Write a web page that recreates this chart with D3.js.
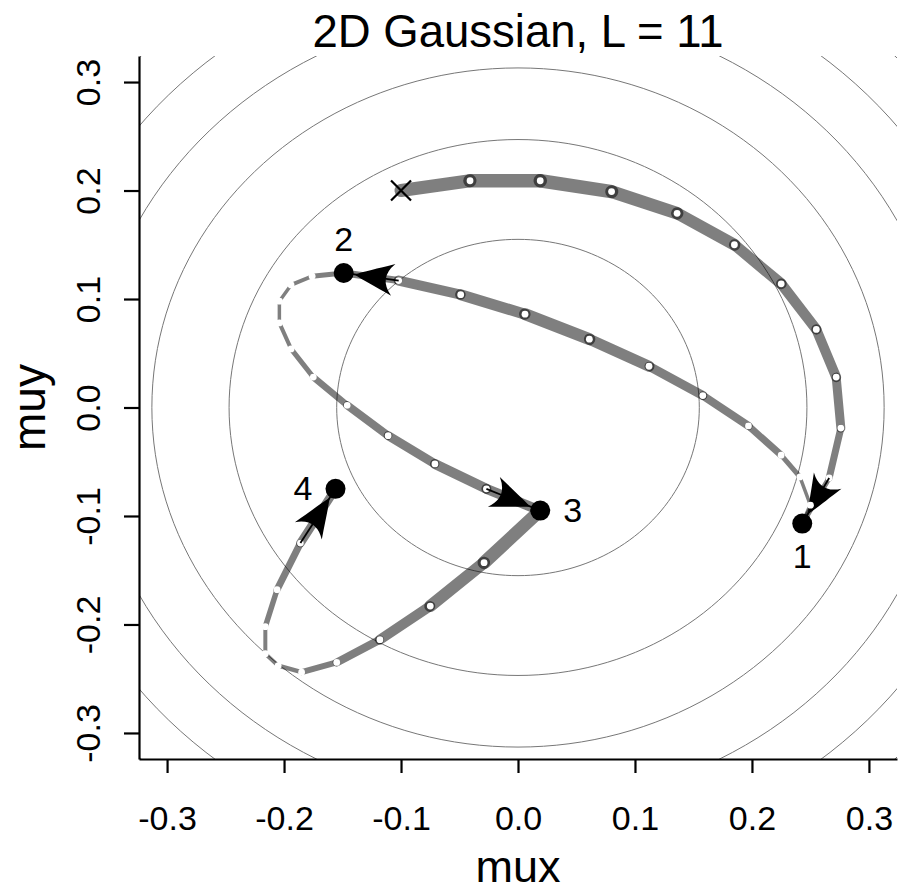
<!DOCTYPE html>
<html>
<head>
<meta charset="utf-8">
<script src="https://cdn.jsdelivr.net/npm/d3@7"></script>
<style>
  body { margin: 0; background: #fff; }
  text { font-family: "Liberation Sans", Arial, Helvetica, sans-serif; }
</style>
</head>
<body>
<svg width="899" height="891"></svg>
<script>
// contour radii of the 2D gaussian, in mux/muy units
var contourRadii = [0.155, 0.247, 0.313, 0.367, 0.415, 0.457];
var ticks = [-0.3, -0.2, -0.1, 0.0, 0.1, 0.2, 0.3];
var startPoint = [-0.100, 0.200];

// leapfrog positions (L = 11 steps -> 12 points) of the four trajectories
var traj1 = [[-0.100, 0.200], [-0.041, 0.209], [0.019, 0.209], [0.080, 0.199], [0.136, 0.179], [0.185, 0.150],
             [0.225, 0.114], [0.255, 0.072], [0.272, 0.028], [0.276, -0.019], [0.266, -0.065], [0.243, -0.107]];
var traj2 = [[0.243, -0.107], [0.250, -0.090], [0.241, -0.064], [0.225, -0.044], [0.197, -0.017], [0.158, 0.011],
             [0.112, 0.038], [0.061, 0.063], [0.006, 0.086], [-0.049, 0.104], [-0.102, 0.117], [-0.149, 0.124]];
var traj3 = [[-0.149, 0.124], [-0.176, 0.121], [-0.194, 0.113], [-0.204, 0.098], [-0.204, 0.078], [-0.194, 0.054],
             [-0.175, 0.028], [-0.146, 0.002], [-0.111, -0.026], [-0.071, -0.052], [-0.027, -0.075], [0.019, -0.095]];
var traj4 = [[0.019, -0.095], [-0.029, -0.143], [-0.075, -0.183], [-0.118, -0.214], [-0.155, -0.235], [-0.185, -0.244],
             [-0.205, -0.238], [-0.216, -0.227], [-0.216, -0.202], [-0.206, -0.168], [-0.186, -0.125], [-0.156, -0.075]];

// kinetic energy at the start of every step (segment width is 1 + 2*K)
var kin1 = [3.15, 3.35, 3.29, 3.07, 2.87, 2.59, 2.45, 2.31, 2.03, 1.47, 1.0];
var kin2 = [0.62, 0.48, 0.90, 1.47, 1.75, 2.03, 2.59, 2.87, 2.59, 2.31, 1.47];
var kin3 = [0.90, 0.62, 0.48, 0.48, 0.62, 0.90, 1.33, 1.75, 2.03, 2.31, 2.31];
var kin4 = [3.15, 2.87, 2.31, 1.75, 1.19, 0.76, 0.62, 0.62, 1.04, 1.47, 1.89];

var sampleLabels = ["1", "2", "3", "4"];
var labelSide = ["below", "above", "right", "left"];

var trajectories = [traj1, traj2, traj3, traj4];
var kinetics = [kin1, kin2, kin3, kin4];

var svg = d3.select("svg"),
    margin = {top: 56, right: 2, bottom: 132, left: 139},
    width = +svg.attr("width") - margin.left - margin.right,
    height = +svg.attr("height") - margin.top - margin.bottom;

var x = d3.scaleLinear().domain([-0.324, 0.324]).range([0, width]),
    y = d3.scaleLinear().domain([-0.324, 0.324]).range([height, 0]);

// R lwd -> pixels
var lwd = d3.scaleLinear().domain([0, 1]).range([1.78, 5.34]);

var g = svg.append("g")
    .attr("transform", "translate(" + margin.left + "," + margin.top + ")");

g.append("clipPath").attr("id", "clip")
  .append("rect").attr("width", width).attr("height", height);

// contours
var circle = d3.line()
    .x(function(d) { return x(d[0]); })
    .y(function(d) { return y(d[1]); })
    .curve(d3.curveLinearClosed);

g.append("g").attr("clip-path", "url(#clip)")
  .selectAll("path")
  .data(contourRadii)
  .enter().append("path")
    .attr("d", function(r) {
      return circle(d3.range(0, 360, 2).map(function(a) {
        var t = a * Math.PI / 180;
        return [r * Math.cos(t), r * Math.sin(t)];
      }));
    })
    .attr("fill", "none")
    .attr("stroke", "#777")
    .attr("stroke-width", 1);

// axes
var fmt = function(d) { return d.toFixed(1); };

var xAxis = g.append("g")
    .attr("transform", "translate(0," + height + ")")
    .call(d3.axisBottom(x).tickValues(ticks).tickFormat(fmt).tickSize(14).tickSizeOuter(0));

var yAxis = g.append("g")
    .call(d3.axisLeft(y).tickValues(ticks).tickFormat(fmt).tickSize(15).tickSizeOuter(0));

[xAxis, yAxis].forEach(function(a) {
  a.attr("font-size", null).attr("font-family", null);
  a.selectAll("path, line").attr("stroke", "#000").attr("stroke-width", 2.2);
  a.selectAll("text").attr("fill", "#000").style("font-size", "34px");
});

xAxis.selectAll("text").attr("y", 71).attr("dy", null);
yAxis.selectAll("text")
    .attr("x", 0).attr("y", -39).attr("dy", null)
    .attr("text-anchor", "middle")
    .attr("transform", "rotate(-90)");

// titels
svg.append("text")
    .attr("x", margin.left + width / 2).attr("y", 46.5)
    .attr("text-anchor", "middle")
    .style("font-size", "45.5px")
    .text("2D Gaussian, L = 11");

svg.append("text")
    .attr("x", margin.left + width / 2).attr("y", 882)
    .attr("text-anchor", "middle")
    .style("font-size", "45px")
    .text("mux");

svg.append("text")
    .attr("transform", "translate(45," + (margin.top + height / 2) + ") rotate(-90)")
    .attr("text-anchor", "middle")
    .style("font-size", "46px")
    .text("muy");

// start marker
var sx = x(startPoint[0]), sy = y(startPoint[1]);
g.append("path")
    .attr("d", "M" + (sx - 10) + "," + (sy - 10) + "L" + (sx + 10) + "," + (sy + 10) +
               "M" + (sx - 10) + "," + (sy + 10) + "L" + (sx + 10) + "," + (sy - 10))
    .attr("stroke", "#000").attr("stroke-width", 2.2).attr("fill", "none");

// curved arrow head, tip at origin pointing along +x
var headPath = "M0,0 C-8,4 -22,9 -39,16 Q-24,0 -39,-16 C-22,-9 -8,-4 0,0Z";

trajectories.forEach(function(traj, i) {
  var L = traj.length - 1;
  var tg = g.append("g");

  // one segment per step, width from kinetic energy
  tg.selectAll(".seg")
    .data(d3.range(L))
    .enter().append("line")
      .attr("class", "seg")
      .attr("x1", function(j) { return x(traj[j][0]); })
      .attr("y1", function(j) { return y(traj[j][1]); })
      .attr("x2", function(j) { return x(traj[j + 1][0]); })
      .attr("y2", function(j) { return y(traj[j + 1][1]); })
      .attr("stroke", "#000")
      .attr("stroke-opacity", 0.5)
      .attr("stroke-linecap", "round")
      .attr("stroke-width", function(j) { return lwd(kinetics[i][j]); });

  // white leapfrog points
  tg.selectAll(".step")
    .data(traj.slice(1))
    .enter().append("circle")
      .attr("class", "step")
      .attr("cx", function(d) { return x(d[0]); })
      .attr("cy", function(d) { return y(d[1]); })
      .attr("r", 3.4)
      .attr("fill", "#fff");

  // arrow on the last step
  var x0 = x(traj[L - 1][0]), y0 = y(traj[L - 1][1]),
      x1 = x(traj[L][0]), y1 = y(traj[L][1]);
  var len = Math.sqrt((x1 - x0) * (x1 - x0) + (y1 - y0) * (y1 - y0));
  var ux = (x1 - x0) / len, uy = (y1 - y0) / len;
  var angle = Math.atan2(uy, ux) * 180 / Math.PI;

  tg.append("line")
      .attr("x1", x0).attr("y1", y0).attr("x2", x1).attr("y2", y1)
      .attr("stroke", "#000").attr("stroke-width", 1.8);

  tg.append("path")
      .attr("d", headPath)
      .attr("transform", "translate(" + (x1 - ux * 11) + "," + (y1 - uy * 11) + ") rotate(" + angle + ")")
      .attr("fill", "#000");

  // label of the sample
  var side = labelSide[i];
  var lab = tg.append("text")
      .style("font-size", "34px")
      .text(sampleLabels[i]);
  if (side == "below") lab.attr("x", x1).attr("y", y1 + 44).attr("text-anchor", "middle");
  if (side == "above") lab.attr("x", x1).attr("y", y1 - 22).attr("text-anchor", "middle");
  if (side == "right") lab.attr("x", x1 + 23).attr("y", y1 + 11).attr("text-anchor", "start");
  if (side == "left") lab.attr("x", x1 - 23).attr("y", y1 + 11).attr("text-anchor", "end");

  // accepted sample
  tg.append("circle")
      .attr("cx", x1).attr("cy", y1)
      .attr("r", 10)
      .attr("fill", "#000");
});
</script>
</body>
</html>
